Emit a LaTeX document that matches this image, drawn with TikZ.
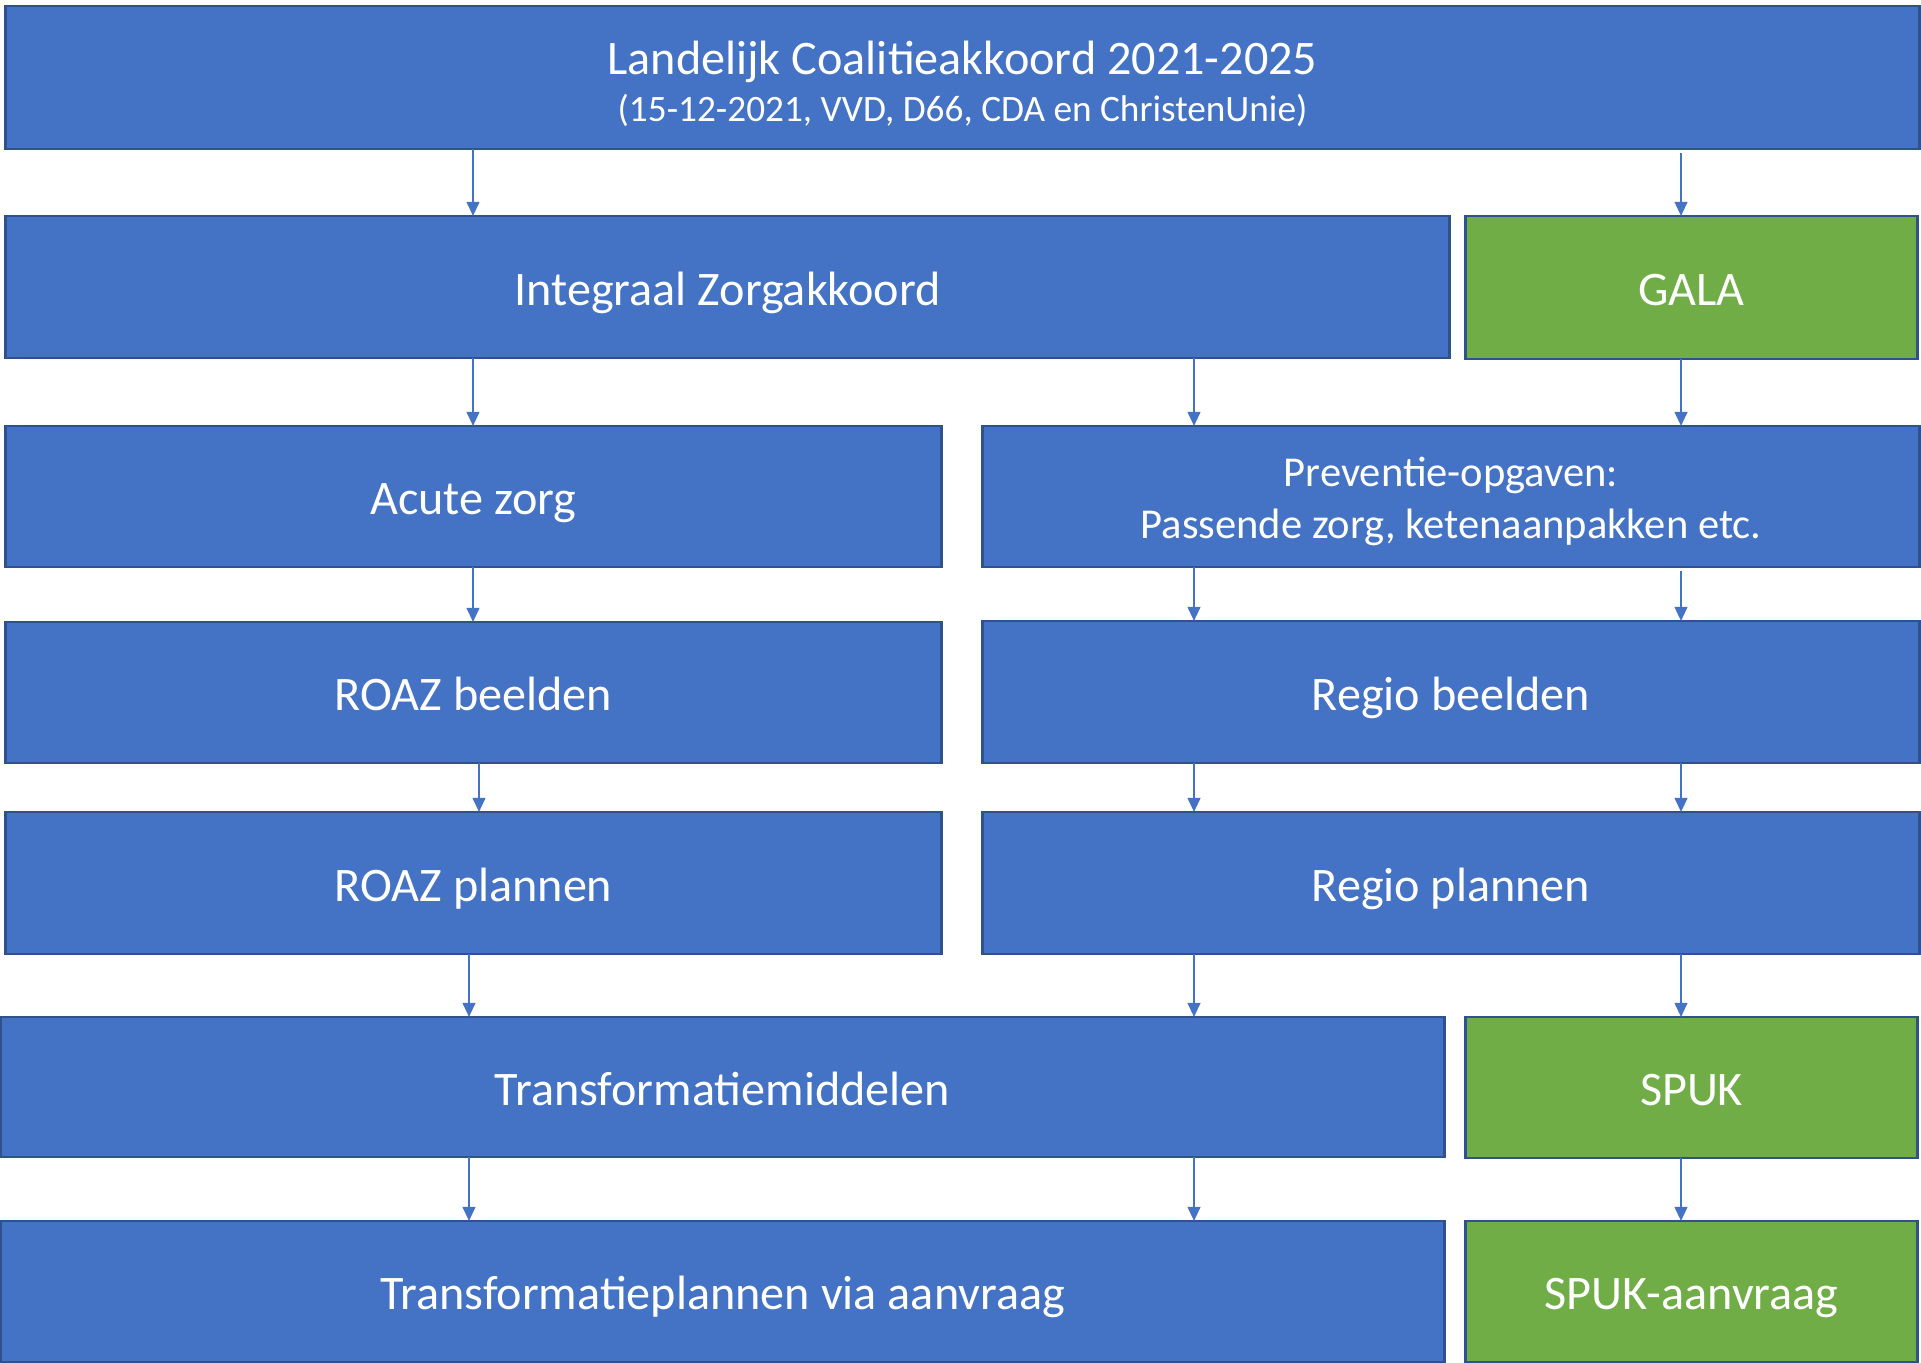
\documentclass[tikz,border=0pt]{standalone}
\usepackage{fontspec}
\setmainfont{Carlito}
\usetikzlibrary{arrows.meta}

\definecolor{blokblauw}{HTML}{4472C4}
\definecolor{randblauw}{HTML}{2F528F}
\definecolor{blokgroen}{HTML}{70AD47}

\begin{document}
\begin{tikzpicture}[x=0.01cm, y=-0.01cm,
	blok/.style={draw=randblauw, line width=0.8pt, fill=blokblauw, text=white, inner sep=0pt, outer sep=0pt, align=center, text height=10.3pt, text depth=0pt, font=\fontsize{13.7}{14.4}\selectfont},
	groenblok/.style={blok, fill=blokgroen},
	pijl/.style={draw=blokblauw, line width=0.6pt, -{Triangle[width=3.6pt, length=4pt]}}]
	\useasboundingbox (0,0) rectangle (1921,1362);

	\coordinate (kolA) at (473, 0);
	\coordinate (kolAr) at (479, 0);
	\coordinate (kolAl) at (469, 0);
	\coordinate (kolB) at (1194, 0);
	\coordinate (kolC) at (1681, 0);

	\node [blok, minimum width=19.13cm, minimum height=1.43cm, text height=24.8pt] (coalitie) at (962.5,77.5) {Landelijk Coalitieakkoord 2021-2025\\[-1pt] {\fontsize{10.6}{12}\selectfont (15-12-2021, VVD, D66, CDA en ChristenUnie)}};

	\node [blok, minimum width=14.43cm, minimum height=1.42cm] (iza) at (727.5,287) {Integraal Zorgakkoord};
	\node [groenblok, minimum width=4.51cm, minimum height=1.43cm] (gala) at (1691.5,287.5) {GALA};

	\node [blok, minimum width=9.35cm, minimum height=1.41cm] (acuut) at (473.5,496.5) {Acute zorg};
	\node [blok, minimum width=9.36cm, minimum height=1.41cm, text height=23.6pt, font=\fontsize{12.1}{14.6}\selectfont] (preventie) at (1451,496.5) {Preventie-opgaven:\\Passende zorg, ketenaanpakken etc.};

	\node [blok, minimum width=9.35cm, minimum height=1.41cm] (roazbeeld) at (473.5,692.5) {ROAZ beelden};
	\node [blok, minimum width=9.36cm, minimum height=1.42cm] (regiobeeld) at (1451,692) {Regio beelden};

	\node [blok, minimum width=9.35cm, minimum height=1.42cm] (roazplan) at (473.5,883) {ROAZ plannen};
	\node [blok, minimum width=9.36cm, minimum height=1.42cm] (regioplan) at (1451,883) {Regio plannen};

	\node [blok, minimum width=14.43cm, minimum height=1.40cm] (middelen) at (722.5,1087) {Transformatiemiddelen};
	\node [groenblok, minimum width=4.51cm, minimum height=1.41cm] (spuk) at (1691.5,1087.5) {SPUK};

	\node [blok, minimum width=14.43cm, minimum height=1.41cm] (plannen) at (722.5,1291.5) {Transformatieplannen via aanvraag};
	\node [groenblok, minimum width=4.51cm, minimum height=1.41cm] (aanvraag) at (1691.5,1291.5) {SPUK-aanvraag};

	\draw [pijl] (coalitie.south -| kolA) -- (iza.north -| kolA);
	\draw [pijl] ([yshift=-1.2pt]coalitie.south -| kolC) -- (gala.north -| kolC);

	\draw [pijl] (iza.south -| kolA) -- (acuut.north -| kolA);
	\draw [pijl] (iza.south -| kolB) -- (preventie.north -| kolB);
	\draw [pijl] (gala.south -| kolC) -- (preventie.north -| kolC);

	\draw [pijl] (acuut.south -| kolA) -- (roazbeeld.north -| kolA);
	\draw [pijl] (preventie.south -| kolB) -- (regiobeeld.north -| kolB);
	\draw [pijl] ([yshift=-1.2pt]preventie.south -| kolC) -- (regiobeeld.north -| kolC);

	\draw [pijl] (roazbeeld.south -| kolAr) -- (roazplan.north -| kolAr);
	\draw [pijl] (regiobeeld.south -| kolB) -- (regioplan.north -| kolB);
	\draw [pijl] (regiobeeld.south -| kolC) -- (regioplan.north -| kolC);

	\draw [pijl] (roazplan.south -| kolAl) -- (middelen.north -| kolAl);
	\draw [pijl] (regioplan.south -| kolB) -- (middelen.north -| kolB);
	\draw [pijl] (regioplan.south -| kolC) -- (spuk.north -| kolC);

	\draw [pijl] (middelen.south -| kolAl) -- (plannen.north -| kolAl);
	\draw [pijl] (middelen.south -| kolB) -- (plannen.north -| kolB);
	\draw [pijl] (spuk.south -| kolC) -- (aanvraag.north -| kolC);
\end{tikzpicture}
\end{document}
